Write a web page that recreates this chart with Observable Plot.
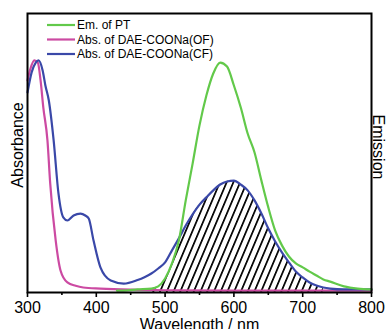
<!DOCTYPE html>
<html>
<head>
<meta charset="utf-8">
<script src="https://cdn.jsdelivr.net/npm/d3@7"></script>
<script src="https://cdn.jsdelivr.net/npm/@observablehq/plot@0.6"></script>
<style>
  html, body { margin: 0; padding: 0; background: #fff; }
  #chart { width: 386px; height: 329px; overflow: hidden; }
</style>
</head>
<body>
<div id="chart"></div>
<script>
// ---- data ----
const seriesNames = ["Em. of PT", "Abs. of DAE-COONa(OF)", "Abs. of DAE-COONa(CF)"];
const seriesColors = ["#62c94a", "#cc4aa2", "#3a48a8"];

const xTicks = [300, 400, 500, 600, 700, 800];
const xMinorTicks = [350, 450, 550, 650, 750];
const xTitle = "Wavelength / nm";
const yTitleLeft = "Absorbance";
const yTitleRight = "Emission";

// pink: open form absorption
const ofWl = [300, 304, 310, 315, 319, 323, 329, 333, 341, 348, 358, 370, 381, 406, 450, 500, 600, 700, 800];
const ofAbs = [0.760, 0.800, 0.832, 0.824, 0.760, 0.663, 0.545, 0.391, 0.186, 0.079, 0.036, 0.024, 0.018, 0.014, 0.010, 0.008, 0.007, 0.007, 0.007];

// blue: closed form absorption, UV part
const cfWlHead = [300, 306, 312, 316, 322, 326, 331, 338, 345, 352, 358, 367, 377, 384, 389, 396, 406, 421, 440, 460, 470];
const cfAbsHead = [0.717, 0.789, 0.824, 0.832, 0.796, 0.742, 0.688, 0.545, 0.355, 0.269, 0.258, 0.276, 0.283, 0.276, 0.265, 0.186, 0.090, 0.043, 0.032, 0.045, 0.055];

// green: emission, onset part
const emWlHead = [430, 440, 460];
const emHead = [0.007, 0.007, 0.011];

// shared wavelength grid for visible region
const gridWl = [480, 490, 500, 510, 520, 530, 540, 550, 560, 570, 580, 590, 600, 610, 620, 630, 640, 650, 660, 670, 680, 690, 700, 710, 720, 730, 740, 760, 780, 800];
const cfAbsTail = [0.068, 0.086, 0.108, 0.151, 0.194, 0.240, 0.280, 0.315, 0.341, 0.366, 0.387, 0.398, 0.401, 0.387, 0.366, 0.330, 0.283, 0.229, 0.183, 0.143, 0.108, 0.075, 0.054, 0.036, 0.025, 0.018, 0.014, 0.011, 0.011, 0.011];
const emTail = [0.014, 0.022, 0.050, 0.104, 0.186, 0.330, 0.462, 0.599, 0.706, 0.785, 0.824, 0.810, 0.742, 0.663, 0.570, 0.502, 0.401, 0.305, 0.222, 0.168, 0.129, 0.104, 0.090, 0.075, 0.061, 0.047, 0.039, 0.022, 0.014, 0.011];
const overlapMaxWl = 730;

// ---- build tables ----
const ofData = ofWl.map((w, i) => ({w, v: ofAbs[i]}));
const cfData = cfWlHead.map((w, i) => ({w, v: cfAbsHead[i]}))
  .concat(gridWl.map((w, i) => ({w, v: cfAbsTail[i]})));
const emData = emWlHead.map((w, i) => ({w, v: emHead[i]}))
  .concat(gridWl.map((w, i) => ({w, v: emTail[i]})));
const overlap = gridWl.map((w, i) => ({w, v: Math.min(cfAbsTail[i], emTail[i])}))
  .filter(d => d.w <= overlapMaxWl);

const FONT = "'Liberation Sans', Arial, Helvetica, sans-serif";
const curve = "monotone-x";
const lw = 2.2;

const axisMarks = (typeof Plot.axisX === "function") ? [
  Plot.axisX({ticks: xTicks, tickSize: 5, tickPadding: 4, fontSize: 16, stroke: "black", strokeWidth: 1.6, label: null}),
  Plot.axisX({ticks: xMinorTicks, tickSize: 3, tickFormat: () => "", stroke: "black", strokeWidth: 1.6, label: null})
] : [];

const plot = Plot.plot({
  width: 386,
  height: 329,
  marginLeft: 27,
  marginRight: 15,
  marginTop: 13,
  marginBottom: 37,
  x: Object.assign({domain: [300, 800], label: null},
    axisMarks.length ? {} : {ticks: xTicks, tickSize: 5, tickPadding: 4}),
  y: {domain: [0, 1], axis: null},
  style: {fontFamily: FONT, fontSize: "16px", background: "white", color: "black", overflow: "visible"},
  marks: [
    Plot.areaY(overlap, {x: "w", y: "v", y1: 0, fill: "url(#hatch)", curve}),
    Plot.line(ofData, {x: "w", y: "v", stroke: seriesColors[1], strokeWidth: lw, curve}),
    Plot.line(cfData, {x: "w", y: "v", stroke: seriesColors[2], strokeWidth: lw, curve}),
    Plot.line(emData, {x: "w", y: "v", stroke: seriesColors[0], strokeWidth: lw, curve}),
    Plot.frame({stroke: "black", strokeWidth: 2}),
    ...axisMarks,
    Plot.text([xTitle], {frameAnchor: "bottom", dy: 26, lineAnchor: "top", fontSize: 16, fill: "black"})
  ]
});

// hatch pattern definition
const svg = d3.select(plot);
const defs = svg.insert("defs", ":first-child");
const pat = defs.append("pattern")
  .attr("id", "hatch")
  .attr("patternUnits", "userSpaceOnUse")
  .attr("width", 6.2).attr("height", 10)
  .attr("patternTransform", "rotate(23)");
pat.append("rect").attr("x", 0).attr("y", 0).attr("width", 1.7).attr("height", 10)
  .attr("fill", "black");

// vertical axis titles
svg.append("text")
  .attr("transform", "translate(17,145) rotate(-90)")
  .attr("text-anchor", "middle").attr("dominant-baseline", "central")
  .attr("font-family", FONT).attr("font-size", 16).attr("fill", "black")
  .text(yTitleLeft);
svg.append("text")
  .attr("transform", "translate(378,147) rotate(90)")
  .attr("text-anchor", "middle").attr("dominant-baseline", "central")
  .attr("font-family", FONT).attr("font-size", 16).attr("fill", "black")
  .text(yTitleRight);

// legend (inside the frame, top-left)
const legend = svg.append("g").attr("font-family", FONT).attr("font-size", 12)
  .attr("text-anchor", "start");
seriesNames.forEach((name, i) => {
  const y = 25 + i * 14.5;
  legend.append("line").attr("x1", 47).attr("x2", 75).attr("y1", y).attr("y2", y)
    .attr("stroke", seriesColors[i]).attr("stroke-width", 2.2);
  legend.append("text").attr("x", 77).attr("y", y).attr("dy", "0.36em")
    .attr("text-anchor", "start").attr("fill", "black").text(name);
});

document.getElementById("chart").appendChild(plot);
</script>
</body>
</html>
